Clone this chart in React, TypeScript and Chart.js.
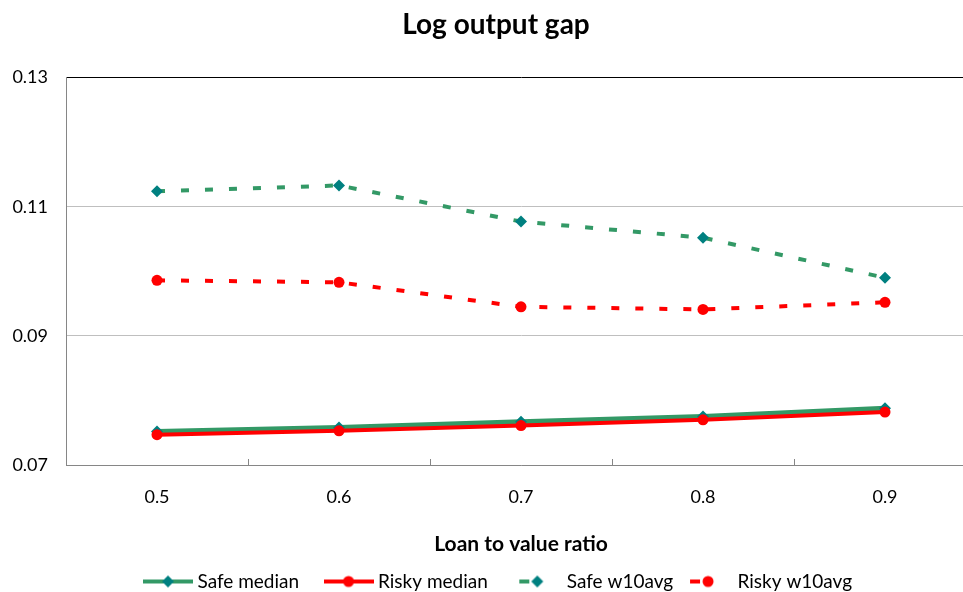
import React, { useEffect, useRef } from "react";
import { Chart, registerables } from "chart.js";

Chart.register(...registerables);

const categories = ["0.5", "0.6", "0.7", "0.8", "0.9"];
const safeMedian = [0.0752, 0.0758, 0.0767, 0.0775, 0.0788];
const riskyMedian = [0.0747, 0.0753, 0.0761, 0.077, 0.0782];
const safeW10avg = [0.1124, 0.1133, 0.1077, 0.1052, 0.099];
const riskyW10avg = [0.0986, 0.0983, 0.0945, 0.0941, 0.0952];
const yTicks = [0.07, 0.09, 0.11, 0.13];

const GREEN = "#339966";
const TEAL = "#008080";
const RED = "#ff0000";
const FONT = "Lato, 'Open Sans', sans-serif";
const LEGEND_TRAIL = ["    ", "    ", " ", ""];

function makeIcon(lineColor: string, markerColor: string, marker: string, dashed: boolean) {
  const c = document.createElement("canvas");
  c.width = 50;
  c.height = 14;
  const ctx = c.getContext("2d")!;
  ctx.strokeStyle = lineColor;
  ctx.lineWidth = 4;
  ctx.beginPath();
  if (dashed) {
    ctx.moveTo(7, 7);
    ctx.lineTo(17, 7);
  } else {
    ctx.moveTo(0, 7);
    ctx.lineTo(50, 7);
  }
  ctx.stroke();
  ctx.fillStyle = markerColor;
  ctx.beginPath();
  if (marker === "diamond") {
    ctx.moveTo(25, 1);
    ctx.lineTo(31, 7);
    ctx.lineTo(25, 13);
    ctx.lineTo(19, 7);
    ctx.closePath();
  } else {
    ctx.arc(25, 7, 5.5, 0, Math.PI * 2);
  }
  ctx.fill();
  return c;
}

const innerTicks = {
  id: "innerTicks",
  afterLayout(chart: any) {
    if (chart.legend) {
      chart.legend.left += 8;
      chart.legend.right += 8;
    }
    if (chart.titleBlock) {
      chart.titleBlock.left += 4;
      chart.titleBlock.right += 4;
    }
  },
  beforeDatasetsDraw(chart: any) {
    const x = chart.scales.x;
    const { bottom } = chart.chartArea;
    const ctx = chart.ctx;
    ctx.save();
    ctx.strokeStyle = "#868686";
    ctx.lineWidth = 1;
    const n = x.ticks.length;
    for (let i = 1; i < n; i++) {
      const px = Math.round((x.getPixelForTick(i - 1) + x.getPixelForTick(i)) / 2) + 0.5;
      ctx.beginPath();
      ctx.moveTo(px, bottom);
      ctx.lineTo(px, bottom - 6);
      ctx.stroke();
    }
    ctx.restore();
  },
};

export default function App() {
  const ref = useRef<HTMLCanvasElement>(null);

  useEffect(() => {
    if (!ref.current) return;
    const icons = [
      makeIcon(GREEN, TEAL, "diamond", false),
      makeIcon(RED, RED, "circle", false),
      makeIcon(GREEN, TEAL, "diamond", true),
      makeIcon(RED, RED, "circle", true),
    ];
    const chart = new Chart(ref.current, {
      type: "line",
      data: {
        labels: categories,
        datasets: [
          {
            label: "Safe median",
            data: safeMedian,
            borderColor: GREEN,
            borderWidth: 5,
            pointStyle: "rectRot",
            pointRadius: 6,
            pointBackgroundColor: TEAL,
            pointBorderColor: TEAL,
            pointBorderWidth: 0,
            order: 3,
          },
          {
            label: "Risky median",
            data: riskyMedian,
            borderColor: RED,
            borderWidth: 4,
            pointStyle: "circle",
            pointRadius: 5.5,
            pointBackgroundColor: RED,
            pointBorderColor: RED,
            pointBorderWidth: 0,
            order: 2,
          },
          {
            label: "Safe w10avg",
            data: safeW10avg,
            borderColor: GREEN,
            borderWidth: 4,
            borderDash: [8, 16],
            pointStyle: "rectRot",
            pointRadius: 6,
            pointBackgroundColor: TEAL,
            pointBorderColor: TEAL,
            pointBorderWidth: 0,
            order: 1,
          },
          {
            label: "Risky w10avg",
            data: riskyW10avg,
            borderColor: RED,
            borderWidth: 4,
            borderDash: [8, 16],
            pointStyle: "circle",
            pointRadius: 5.5,
            pointBackgroundColor: RED,
            pointBorderColor: RED,
            pointBorderWidth: 0,
            order: 0,
          },
        ],
      },
      options: {
        responsive: false,
        animation: false,
        devicePixelRatio: 1,
        layout: { padding: { left: 8, right: 16, top: 0, bottom: 0 } },
        plugins: {
          tooltip: { enabled: false },
          title: {
            display: true,
            text: "Log output gap",
            color: "#000",
            font: { family: FONT, size: 28, weight: "bold" },
            padding: { top: 8, bottom: 36 },
          },
          legend: {
            position: "bottom",
            labels: {
              usePointStyle: true,
              pointStyleWidth: 40,
              padding: 10,
              color: "#000",
              font: { family: FONT, size: 19 },
              generateLabels: (c: any) =>
                c.data.datasets.map((ds: any, i: number) => ({
                  text: ds.label + LEGEND_TRAIL[i],
                  pointStyle: icons[i],
                  datasetIndex: i,
                  hidden: false,
                  fillStyle: "transparent",
                  strokeStyle: "transparent",
                  lineWidth: 0,
                  fontColor: "#000",
                })),
            },
          },
        },
        scales: {
          x: {
            type: "category",
            offset: true,
            grid: { display: false, drawTicks: false },
            border: { display: true, color: "#868686", width: 1 },
            ticks: {
              color: "#000",
              font: { family: FONT, size: 18 },
              padding: 21,
              maxRotation: 0,
            },
            title: {
              display: true,
              text: "Loan to value ratio",
              color: "#000",
              font: { family: FONT, size: 21, weight: "bold" },
              padding: { top: 4, bottom: 5 },
            },
            afterFit: (s: any) => {
              s.height = 97;
            },
          },
          y: {
            min: 0.07,
            max: 0.13,
            afterBuildTicks: (s: any) => {
              s.ticks = yTicks.map((v) => ({ value: v }));
            },
            afterFit: (s: any) => {
              s.width = 58;
            },
            grid: {
              drawTicks: false,
              color: (ctx: any) =>
                ctx.tick && Math.abs(ctx.tick.value - 0.13) < 1e-6 ? "#000" : "#bfbfbf",
              lineWidth: 1,
            },
            border: { display: true, color: "#868686", width: 1 },
            ticks: {
              color: "#000",
              font: { family: FONT, size: 18 },
              padding: 18,
              callback: (v: any) => Number(v).toFixed(2),
            },
          },
        },
      },
      plugins: [innerTicks],
    });
    return () => chart.destroy();
  }, []);

  return (
    <div
      style={{
        position: "fixed",
        left: 0,
        top: 0,
        width: 963,
        height: 592,
        overflow: "hidden",
        background: "#fff",
      }}
    >
      <canvas ref={ref} width={992} height={601} style={{ display: "block", width: 992, height: 601 }} />
    </div>
  );
}
